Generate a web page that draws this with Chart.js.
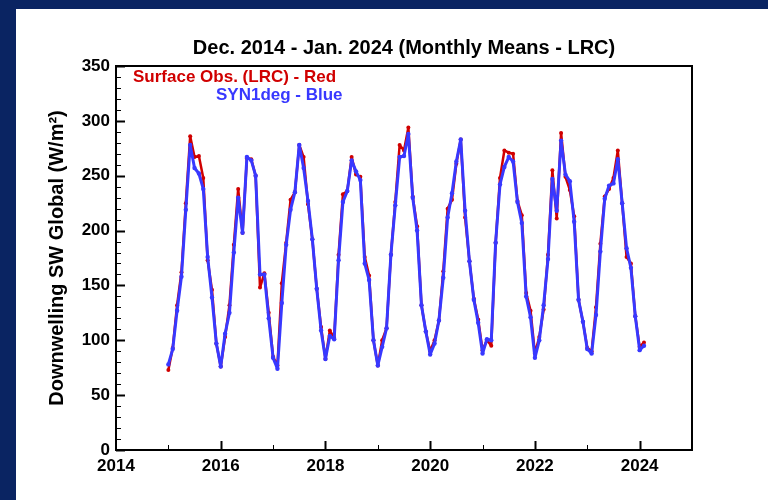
<!DOCTYPE html>
<html>
<head>
<meta charset="utf-8">
<script src="https://cdn.jsdelivr.net/npm/chart.js@4"></script>
<style>
  html, body { margin: 0; padding: 0; }
  body { width: 768px; height: 500px; background: #0a2462; overflow: hidden; position: relative; }
  #panel { position: absolute; left: 16px; top: 9px; width: 752px; height: 491px; background: #fff; }
</style>
</head>
<body>
<div id="panel"><canvas id="myChart" width="752" height="491"></canvas></div>
<script>
// monthly means, Dec 2014 .. Jan 2024
const startYear = 2014;
const startMonth = 12;

const surfaceObs = [
  73, 93, 132, 162, 225, 286, 267, 268, 248, 173, 146, 97,
  76, 103, 132, 187, 238, 198, 266, 265, 250, 148, 161, 125,
  85, 77, 152, 189, 228, 235, 278, 267, 224, 192, 147, 112,
  83, 109, 102, 178, 233, 236, 267, 251, 249, 176, 159, 100,
  77, 100, 111, 178, 226, 278, 273, 294, 231, 204, 132, 108,
  90, 100, 118, 163, 220, 228, 261, 283, 212, 172, 138, 119,
  91, 100, 95, 189, 248, 273, 271, 270, 227, 214, 143, 127,
  88, 103, 128, 178, 255, 211, 289, 249, 237, 213, 137, 117,
  93, 90, 130, 188, 231, 238, 248, 273, 225, 176, 170, 122,
  94, 98
];

const syn1deg = [
  78, 92, 127, 158, 219, 278, 257, 252, 238, 176, 139, 97,
  76, 106, 125, 180, 230, 198, 267, 264, 250, 160, 160, 120,
  84, 74, 134, 187, 219, 235, 278, 257, 227, 192, 147, 109,
  83, 104, 101, 173, 226, 236, 264, 254, 246, 170, 155, 100,
  77, 94, 111, 178, 223, 267, 268, 288, 230, 200, 132, 108,
  87, 97, 118, 157, 212, 234, 263, 283, 218, 172, 137, 116,
  88, 101, 100, 189, 242, 258, 267, 263, 226, 207, 140, 121,
  84, 100, 132, 174, 247, 218, 282, 251, 245, 208, 137, 117,
  92, 88, 123, 181, 229, 241, 243, 265, 225, 184, 166, 122,
  91, 95
];

const xTicks = [2014, 2016, 2018, 2020, 2022, 2024];
const yTicks = [0, 50, 100, 150, 200, 250, 300, 350];

const titleText = 'Dec. 2014 - Jan. 2024 (Monthly Means - LRC)';
const yTitle = 'Downwelling SW Global (W/m\u00B2)';
const legendRed = 'Surface Obs. (LRC) - Red';
const legendBlue = 'SYN1deg - Blue';

const RED = '#d00000';
const BLUE = '#3838ff';
const FONT = '"Liberation Sans", Arial, sans-serif';

// decimal year of each month (Dec 2014 -> 2015.0)
const toPoints = (vals) => vals.map((v, i) => ({
  x: startYear + (startMonth + i) / 12,
  y: v
}));

const frame = {
  id: 'frame',
  afterDatasetsDraw(chart) {
    const { ctx, chartArea: a, scales: { x, y } } = chart;
    ctx.save();
    ctx.strokeStyle = '#000';
    // inward ticks, left axis
    for (let v = 0; v <= 350; v += 10) {
      const py = Math.round(y.getPixelForValue(v)) + 0.5;
      const major = v % 50 === 0;
      ctx.lineWidth = major ? 2 : 1;
      ctx.beginPath();
      ctx.moveTo(a.left, py);
      ctx.lineTo(a.left + (major ? 9 : 5), py);
      ctx.stroke();
    }
    // inward ticks, bottom axis
    for (let v = 2015; v <= 2024; v++) {
      const px = Math.round(x.getPixelForValue(v)) + 0.5;
      const major = v % 2 === 0;
      ctx.lineWidth = major ? 2 : 1;
      ctx.beginPath();
      ctx.moveTo(px, a.bottom);
      ctx.lineTo(px, a.bottom - (major ? 9 : 5));
      ctx.stroke();
    }
    ctx.lineWidth = 2;
    ctx.strokeRect(a.left, a.top, a.right - a.left, a.bottom - a.top);

    // title
    ctx.fillStyle = '#000';
    ctx.font = 'bold 20px ' + FONT;
    ctx.textAlign = 'center';
    ctx.textBaseline = 'alphabetic';
    ctx.fillText(titleText, (a.left + a.right) / 2, 45);

    // legend text
    ctx.font = 'bold 17px ' + FONT;
    ctx.textAlign = 'left';
    ctx.fillStyle = RED;
    ctx.fillText(legendRed, 117, 73);
    ctx.fillStyle = BLUE;
    ctx.fillText(legendBlue, 200, 91);
    ctx.restore();
  }
};

const config = {
  type: 'line',
  data: {
    datasets: [
      {
        label: legendRed,
        data: toPoints(surfaceObs),
        borderColor: RED,
        backgroundColor: RED,
        borderWidth: 2.5,
        borderJoinStyle: 'round',
        pointRadius: 2,
        pointBorderWidth: 0,
        order: 2
      },
      {
        label: legendBlue,
        data: toPoints(syn1deg),
        borderColor: BLUE,
        backgroundColor: BLUE,
        borderWidth: 3,
        borderJoinStyle: 'round',
        pointRadius: 2.2,
        pointBorderWidth: 0,
        order: 1
      }
    ]
  },
  options: {
    responsive: false,
    animation: false,
    layout: { padding: { top: 57, right: 76, left: 0, bottom: 0 } },
    plugins: {
      legend: { display: false },
      tooltip: { enabled: false }
    },
    scales: {
      x: {
        type: 'linear',
        min: 2014,
        max: 2025,
        grid: { display: false, drawTicks: false },
        border: { display: false },
        afterBuildTicks: (s) => { s.ticks = xTicks.map(v => ({ value: v })); },
        afterFit: (s) => { s.height = 50; },
        ticks: {
          color: '#000',
          padding: 6,
          maxRotation: 0,
          font: { family: FONT, size: 17, weight: 'bold' },
          callback: (v) => String(v)
        }
      },
      y: {
        min: 0,
        max: 350,
        grid: { display: false, drawTicks: false },
        border: { display: false },
        afterBuildTicks: (s) => { s.ticks = yTicks.map(v => ({ value: v })); },
        afterFit: (s) => { s.width = 100; },
        ticks: {
          color: '#000',
          padding: 6,
          font: { family: FONT, size: 17, weight: 'bold' },
          callback: (v) => String(v)
        },
        title: {
          display: true,
          text: yTitle,
          color: '#000',
          padding: { top: 29, bottom: 0 },
          font: { family: FONT, size: 20, weight: 'bold' }
        }
      }
    }
  },
  plugins: [frame]
};

new Chart(document.getElementById('myChart'), config);
</script>
</body>
</html>
